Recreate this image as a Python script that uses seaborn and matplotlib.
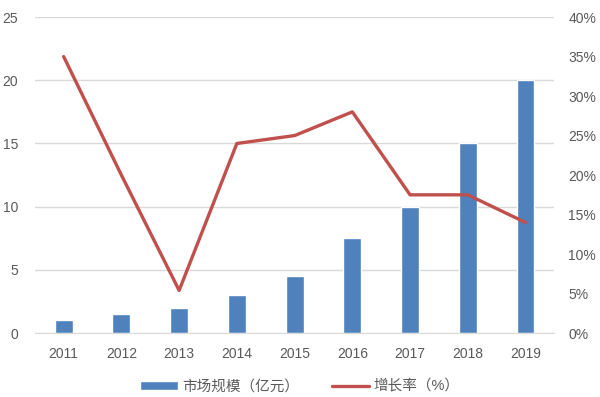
import pandas as pd
import matplotlib.pyplot as plt
import seaborn as sns
from matplotlib.ticker import FuncFormatter, MultipleLocator
from matplotlib.patches import Patch
from matplotlib.lines import Line2D

years = ["2011", "2012", "2013", "2014", "2015", "2016", "2017", "2018", "2019"]
market_size = [1, 1.5, 2, 3, 4.5, 7.5, 10, 15, 20]
growth_rate = [35, 20, 5.4, 24, 25, 28, 17.5, 17.5, 14]

bar_label = "市场规模（亿元）"
line_label = "增长率（%）"

df = pd.DataFrame({"year": years, "size": market_size, "growth": growth_rate})

sns.set_style("white")
plt.rcParams["font.family"] = ["Liberation Sans", "Noto Sans CJK SC", "DejaVu Sans"]

fig = plt.figure(figsize=(6, 3.97), dpi=100)
ax = fig.add_axes([0.058, 0.161, 0.866, 0.796])

blue = "#4F81BD"
red = "#C0504D"
grey = "#595959"

sns.barplot(data=df, x="year", y="size", color=blue, width=0.31, ax=ax,
            saturation=1, zorder=2)
ax.set_ylim(0, 25)
ax.yaxis.set_major_locator(MultipleLocator(5))
ax.grid(axis="y", color="#D9D9D9", linewidth=1, zorder=0)
ax.set_axisbelow(True)

ax2 = ax.twinx()
sns.lineplot(x=list(range(len(years))), y=df["growth"], color=red, linewidth=2.4,
             ax=ax2, zorder=3)
ax2.set_ylim(0, 40)
ax2.yaxis.set_major_locator(MultipleLocator(5))
ax2.yaxis.set_major_formatter(FuncFormatter(lambda v, p: f"{v:.0f}%"))
ax.set_xlim(-0.5, len(years) - 0.5)

for a in (ax, ax2):
    for s in a.spines.values():
        s.set_visible(False)
    a.tick_params(length=0, labelsize=10, colors=grey)
    a.set_xlabel("")
    a.set_ylabel("")
ax.spines["bottom"].set_visible(True)
ax.spines["bottom"].set_color("#D9D9D9")
ax.tick_params(axis="x", pad=10)
ax.tick_params(axis="y", pad=12)
ax2.tick_params(axis="y", pad=10)

handles = [Patch(facecolor=blue, label=bar_label),
           Line2D([], [], color=red, linewidth=2.4, label=line_label)]
fig.legend(handles=handles, loc="lower center", ncol=2, frameon=False,
           bbox_to_anchor=(0.5, -0.025), fontsize=10.5, labelcolor=grey,
           handlelength=2.6, handleheight=0.6, columnspacing=2.2, handletextpad=0.3)

plt.savefig("out.png", dpi=100)
